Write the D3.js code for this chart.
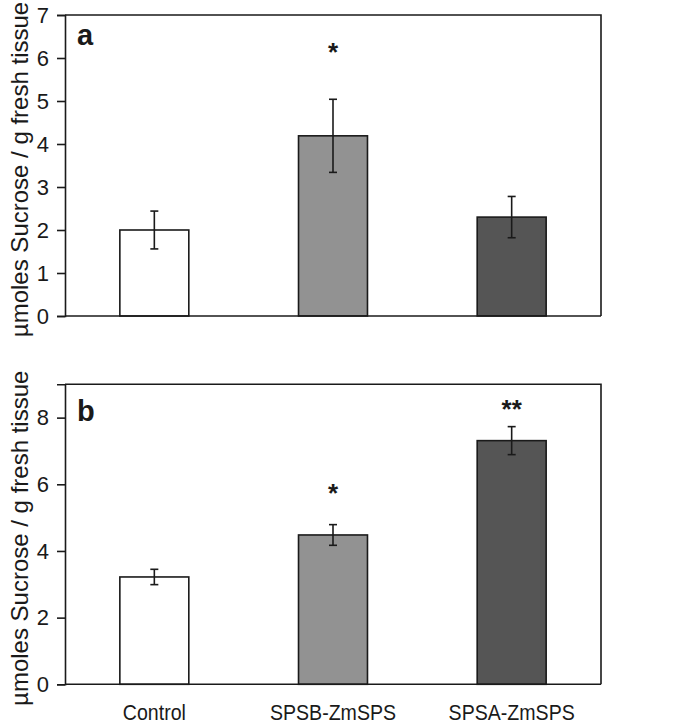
<!DOCTYPE html>
<html>
<head>
<meta charset="utf-8">
<script src="https://cdn.jsdelivr.net/npm/d3@7"></script>
<style>
  html, body { margin: 0; padding: 0; background: #fff; }
  svg { display: block; font-family: "Liberation Sans", Arial, Helvetica, sans-serif; }
</style>
</head>
<body>
<svg id="chart" width="685" height="723"></svg>
<script>
// ---- data ----
const categories = ["Control", "SPSB-ZmSPS", "SPSA-ZmSPS"];
const barFills = ["#ffffff", "#929292", "#555555"];

const valuesA = [2.00, 4.19, 2.30];
const errorsA = [0.44, 0.85, 0.48];
const sigA = ["", "*", ""];
const sigLevelA = [null, 6.25, null];
const ticksA = [0, 1, 2, 3, 4, 5, 6, 7];

const valuesB = [3.22, 4.48, 7.31];
const errorsB = [0.23, 0.31, 0.42];
const sigB = ["", "*", "**"];
const sigLevelB = [null, 5.9, 8.4];
const ticksB = [0, 2, 4, 6, 8];

const yTitle = "µmoles Sucrose / g fresh tissue";

// ---- layout ----
const svg = d3.select("#chart");
const left = 65, right = 601;
const ink = "#1a1a1a";

const x = d3.scaleBand().domain(categories).range([left, right]).paddingInner(0.614).paddingOuter(0.307);

function panel(cfg) {
  const g = svg.append("g");
  const y = d3.scaleLinear().domain([0, cfg.max]).range([cfg.bottom, cfg.top]);

  // bars
  g.selectAll("rect.bar").data(cfg.values).join("rect")
    .attr("class", "bar")
    .attr("x", (d, i) => x(categories[i]))
    .attr("width", x.bandwidth())
    .attr("y", d => y(d))
    .attr("height", d => y(0) - y(d))
    .attr("fill", (d, i) => barFills[i])
    .attr("stroke", ink)
    .attr("stroke-width", 1.6);

  // error bars
  const cap = 4;
  const eb = g.selectAll("g.err").data(cfg.values).join("g").attr("class", "err");
  eb.append("line")
    .attr("x1", (d, i) => x(categories[i]) + x.bandwidth() / 2)
    .attr("x2", (d, i) => x(categories[i]) + x.bandwidth() / 2)
    .attr("y1", (d, i) => y(d - cfg.errors[i]))
    .attr("y2", (d, i) => y(d + cfg.errors[i]));
  eb.append("line")
    .attr("x1", (d, i) => x(categories[i]) + x.bandwidth() / 2 - cap)
    .attr("x2", (d, i) => x(categories[i]) + x.bandwidth() / 2 + cap)
    .attr("y1", (d, i) => y(d + cfg.errors[i]))
    .attr("y2", (d, i) => y(d + cfg.errors[i]));
  eb.append("line")
    .attr("x1", (d, i) => x(categories[i]) + x.bandwidth() / 2 - cap)
    .attr("x2", (d, i) => x(categories[i]) + x.bandwidth() / 2 + cap)
    .attr("y1", (d, i) => y(d - cfg.errors[i]))
    .attr("y2", (d, i) => y(d - cfg.errors[i]));
  eb.selectAll("line").attr("stroke", ink).attr("stroke-width", 1.6);

  // significance marks
  g.selectAll("text.sig").data(cfg.sig).join("text")
    .attr("class", "sig")
    .attr("x", (d, i) => x(categories[i]) + x.bandwidth() / 2)
    .attr("y", (d, i) => cfg.sigLevel[i] == null ? 0 : y(cfg.sigLevel[i]) + 14)
    .attr("text-anchor", "middle")
    .attr("font-size", 26)
    .attr("font-weight", "bold")
    .attr("fill", ink)
    .text(d => d);

  // frame (top and right)
  g.append("path")
    .attr("d", `M${left},${cfg.top}H${right}V${cfg.bottom}`)
    .attr("fill", "none").attr("stroke", ink).attr("stroke-width", 1.6);
  // baseline
  g.append("line")
    .attr("x1", left).attr("x2", right).attr("y1", cfg.bottom).attr("y2", cfg.bottom)
    .attr("stroke", ink).attr("stroke-width", 1.6);

  // y axis
  const ax = g.append("g").attr("transform", `translate(${left},0)`)
    .call(d3.axisLeft(y).tickValues(cfg.ticks).tickFormat(d3.format("d")).tickSizeOuter(0).tickSize(8).tickPadding(8));
  ax.select(".domain").attr("stroke", ink).attr("stroke-width", 1.6);
  ax.selectAll(".tick line").attr("stroke", ink).attr("stroke-width", 1.6);
  ax.selectAll(".tick text").attr("font-size", 22).attr("fill", ink).attr("font-family", "Liberation Sans, Arial, sans-serif");

  // y title
  g.append("text")
    .attr("transform", `translate(28,${(cfg.top + cfg.bottom) / 2 + 4}) rotate(-90)`)
    .attr("text-anchor", "middle")
    .attr("font-size", 24)
    .attr("fill", ink)
    .text(yTitle);

  // panel letter
  g.append("text")
    .attr("x", 77).attr("y", cfg.top + (cfg.letterOffset))
    .attr("font-size", 29).attr("font-weight", "bold").attr("fill", ink)
    .text(cfg.letter);

  return y;
}

panel({ top: 15, bottom: 316, max: 7, values: valuesA, errors: errorsA, sig: sigA, sigLevel: sigLevelA, ticks: ticksA, letter: "a", letterOffset: 30 });
panel({ top: 384.3, bottom: 684.3, max: 9, values: valuesB, errors: errorsB, sig: sigB, sigLevel: sigLevelB, ticks: ticksB, letter: "b", letterOffset: 37 });

// x category labels (bottom panel), slightly condensed like the original typeface
svg.selectAll("text.cat").data(categories).join("text")
  .attr("class", "cat")
  .attr("transform", d => `translate(${x(d) + x.bandwidth() / 2},720) scale(0.89,1)`)
  .attr("text-anchor", "middle")
  .attr("font-size", 22)
  .attr("fill", ink)
  .text(d => d);
</script>
</body>
</html>
